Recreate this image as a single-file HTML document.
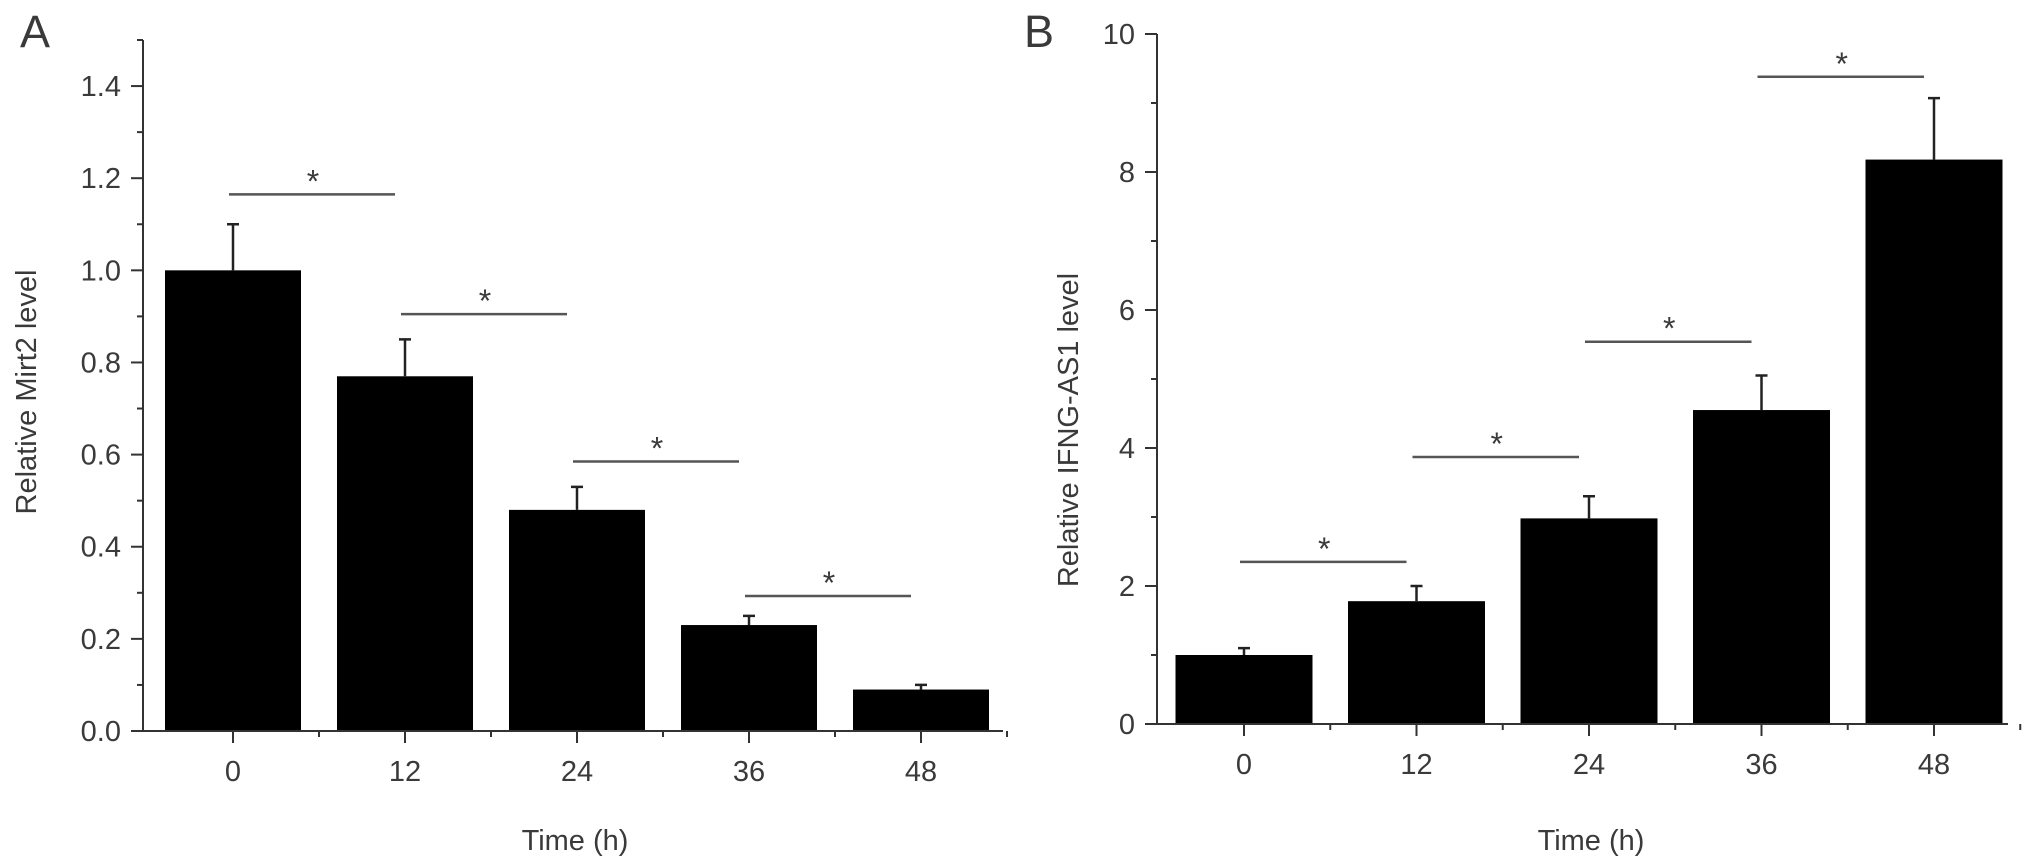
<!DOCTYPE html>
<html><head><meta charset="utf-8"><style>
html,body{margin:0;padding:0;background:#fff;}
svg{display:block;}
text{font-family:"Liberation Sans",sans-serif;fill:#3a3a3a;}
</style></head><body>
<svg id="chart" width="2031" height="868" viewBox="0 0 2031 868" xmlns="http://www.w3.org/2000/svg"></svg>
<script>
const categories = ["0","12","24","36","48"];
const mirt2Values = [1.0, 0.77, 0.48, 0.23, 0.09];
const mirt2Errors = [0.10, 0.08, 0.05, 0.02, 0.01];
const mirt2Ticks = ["0.0","0.2","0.4","0.6","0.8","1.0","1.2","1.4"];
const mirt2TickValues = [0,0.2,0.4,0.6,0.8,1.0,1.2,1.4];
const mirt2SigLevels = [1.165, 0.905, 0.585, 0.293];
const ifngValues = [1.0, 1.78, 2.98, 4.55, 8.18];
const ifngErrors = [0.10, 0.22, 0.32, 0.50, 0.89];
const ifngTicks = ["0","2","4","6","8","10"];
const ifngTickValues = [0,2,4,6,8,10];
const ifngSigLevels = [2.35, 3.87, 5.54, 9.38];

const NS = "http://www.w3.org/2000/svg";
const svg = document.getElementById("chart");
function mk(tag, attrs, parent){
  const e = document.createElementNS(NS, tag);
  for (const k in attrs) e.setAttribute(k, attrs[k]);
  (parent||svg).appendChild(e);
  return e;
}

function panel(cfg){
  const g = mk("g", {});
  
  
  const y = v => cfg.y0 - (v - 0) / cfg.ymax * (cfg.y0 - cfg.yTop);
  const x = i => cfg.x0 + cfg.firstC + i * cfg.step;
  cfg.values.forEach((v,i)=>{
    const b = mk("rect", {x: x(i)-cfg.bw/2, y: y(v), width: cfg.bw, height: cfg.y0 - y(v), fill:"#000"}, g);
    
    
    const e = cfg.errors[i];
    const eb = mk("path", {d:`M${x(i)} ${y(v)} V${y(v+e)} M${x(i)-6} ${y(v+e)} H${x(i)+6}`, stroke:"#222", "stroke-width":2.5, fill:"none"}, g);
    
    
  });
  const ya = mk("line", {x1:cfg.x0, y1:cfg.yTop, x2:cfg.x0, y2:cfg.y0, stroke:"#333", "stroke-width":2}, g);
  
  
  cfg.tickValues.forEach((tv,i)=>{
    mk("line", {x1:cfg.x0-12, x2:cfg.x0, y1:y(tv), y2:y(tv), stroke:"#333","stroke-width":2}, g);
    const t = mk("text", {x:cfg.x0-22, y:y(tv)+10, "text-anchor":"end", "font-size":29}, g);
    t.textContent = cfg.ticks[i];
    
    
    const mv = tv + (cfg.tickValues[1]-cfg.tickValues[0])/2;
    if (mv <= cfg.ymax) mk("line", {x1:cfg.x0-6, x2:cfg.x0, y1:y(mv), y2:y(mv), stroke:"#333","stroke-width":2}, g);
  });
  const xa = mk("line", {x1:cfg.x0-12, y1:cfg.y0, x2:cfg.xEnd, y2:cfg.y0, stroke:"#333","stroke-width":2}, g);
  
  
  categories.forEach((c,i)=>{
    mk("line", {x1:x(i), x2:x(i), y1:cfg.y0, y2:cfg.y0+12, stroke:"#333","stroke-width":2}, g);
    mk("line", {x1:x(i)+cfg.step/2, x2:x(i)+cfg.step/2, y1:cfg.y0, y2:cfg.y0+6, stroke:"#333","stroke-width":2}, g);
    const t = mk("text", {x:x(i), y:cfg.y0+50, "text-anchor":"middle", "font-size":29}, g);
    t.textContent = c;
    
    
  });
  cfg.sig.forEach((lv,i)=>{
    const ln = mk("line", {x1:x(i)-4, x2:x(i+1)-10, y1:y(lv), y2:y(lv), stroke:"#555","stroke-width":2.5}, g);
    
    
    const s = mk("text", {x:(x(i)+x(i+1))/2-6, y:y(lv)-2, "text-anchor":"middle", "font-size":32}, g);
    s.textContent = "*";
    
    
  });
  const xt = mk("text", {x:cfg.xTitleX, y:850, "text-anchor":"middle", "font-size":29}, g);
  xt.textContent = "Time (h)";
  
  
  const yt = mk("text", {x:0, y:0, "text-anchor":"middle", "font-size":29, transform:`translate(${cfg.yTitleX},${cfg.yTitleY}) rotate(-90)`}, g);
  yt.textContent = cfg.ytitle;
  
  
  const pl = mk("text", {x:cfg.labelX, y:47, "font-size":45}, g);
  pl.textContent = cfg.label;
  
  
}

panel({name:"panel-a", values:mirt2Values, errors:mirt2Errors, ticks:mirt2Ticks, tickValues:mirt2TickValues, sig:mirt2SigLevels,
  x0:143, xEnd:1003, y0:731, yTop:40, ymax:1.5, firstC:90, step:172, bw:136,
  xTitleX:575, yTitleX:36, yTitleY:392, ytitle:"Relative Mirt2 level", label:"A", labelX:20});
panel({name:"panel-b", values:ifngValues, errors:ifngErrors, ticks:ifngTicks, tickValues:ifngTickValues, sig:ifngSigLevels,
  x0:1157, xEnd:2008, y0:724, yTop:34, ymax:10, firstC:87, step:172.5, bw:137,
  xTitleX:1591, yTitleX:1078, yTitleY:430, ytitle:"Relative IFNG-AS1 level", label:"B", labelX:1024});
</script>
</body></html>
